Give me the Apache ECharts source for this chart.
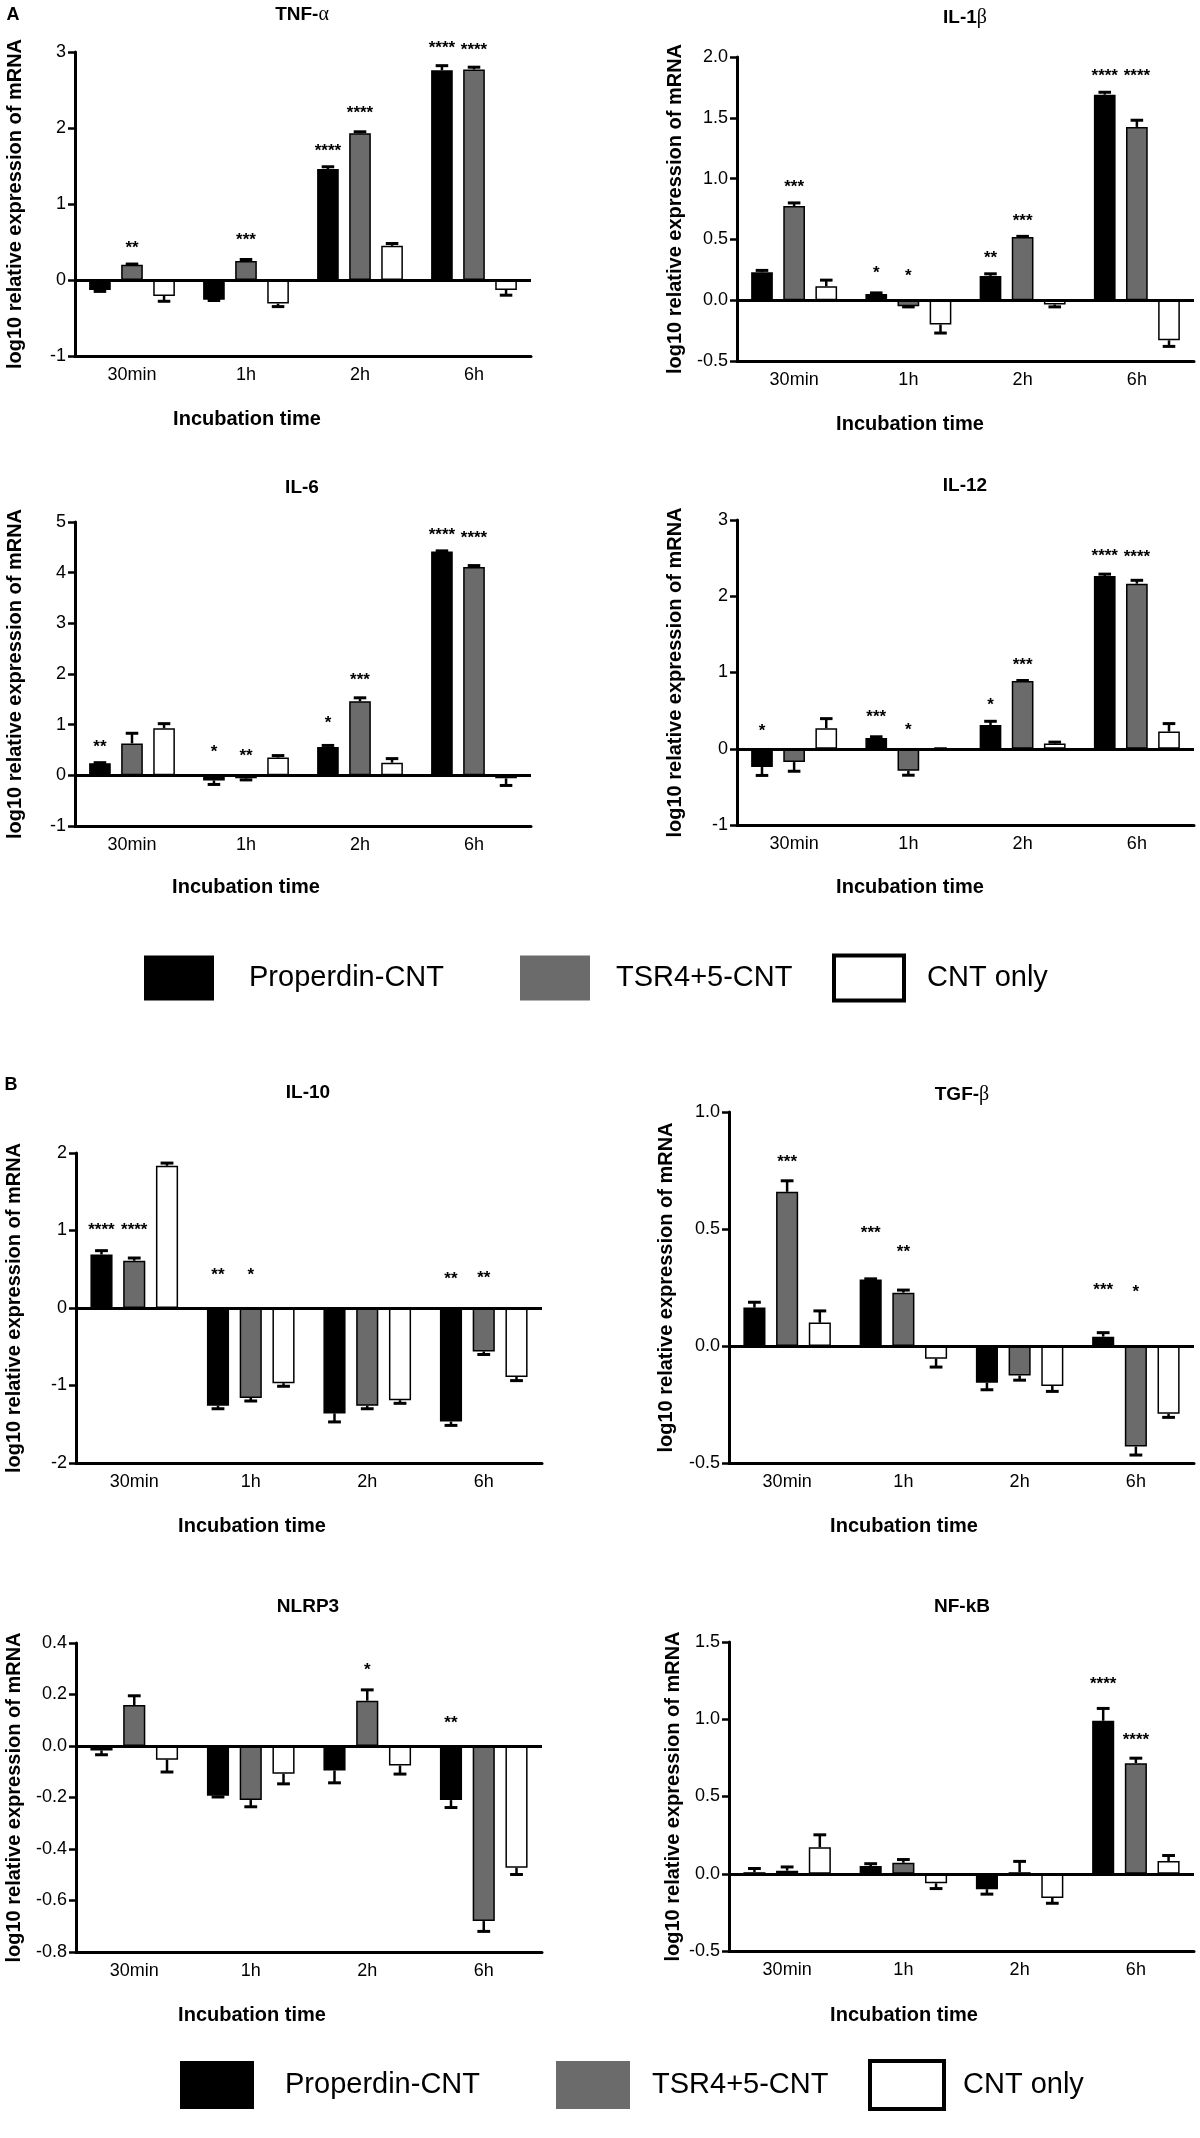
<!DOCTYPE html>
<html>
<head>
<meta charset="utf-8">
<title>log10 relative expression of mRNA</title>
<script src="https://cdn.jsdelivr.net/npm/echarts@6/dist/echarts.min.js"></script>
<style>
html, body { margin: 0; padding: 0; background: #fff; }
#chart { width: 1200px; height: 2138px; }
</style>
</head>
<body>
<div id="chart"></div>
<script>
// categories and groups
const times = ['30min', '1h', '2h', '6h'];
const groups = ['Properdin-CNT', 'TSR4+5-CNT', 'CNT only'];

// means (rows: Properdin-CNT, TSR4+5-CNT, CNT only) and SEM
const tnfMeans = [[-0.13, -0.26, 1.46, 2.76], [0.20, 0.25, 1.93, 2.77], [-0.21, -0.31, 0.45, -0.13]];
const tnfErrs = [[0.02, 0.01, 0.03, 0.06], [0.01, 0.02, 0.02, 0.03], [0.07, 0.04, 0.03, 0.07]];
const tnfSig = [[0, 1, 0.47, '**'], [1, 1, 0.57, '***'], [2, 0, 1.75, '****'], [2, 1, 2.25, '****'], [3, 0, 3.10, '****'], [3, 1, 3.07, '****']];

const il1bMeans = [[0.23, 0.05, 0.20, 1.69], [0.775, -0.05, 0.52, 1.425], [0.115, -0.20, -0.035, -0.33]];
const il1bErrs = [[0.015, 0.01, 0.017, 0.02], [0.025, 0.005, 0.005, 0.055], [0.05, 0.07, 0.02, 0.05]];
const il1bSig = [[0, 1, 0.96, '***'], [1, 0, 0.25, '*'], [1, 1, 0.23, '*'], [2, 0, 0.38, '**'], [2, 1, 0.685, '***'], [3, 0, 1.87, '****'], [3, 1, 1.87, '****']];

const il6Means = [[0.24, -0.10, 0.56, 4.42], [0.63, -0.06, 1.46, 4.11], [0.93, 0.35, 0.25, -0.06]];
const il6Errs = [[0.01, 0.08, 0.03, 0.01], [0.20, 0.03, 0.07, 0.03], [0.09, 0.04, 0.08, 0.14]];
const il6Sig = [[0, 0, 0.625, '**'], [1, 0, 0.53, '*'], [1, 1, 0.46, '**'], [2, 0, 1.10, '*'], [2, 1, 1.95, '***'], [3, 0, 4.82, '****'], [3, 1, 4.75, '****']];

const il12Means = [[-0.24, 0.14, 0.31, 2.265], [-0.175, -0.29, 0.89, 2.165], [0.27, 0, 0.07, 0.225]];
const il12Errs = [[0.11, 0.017, 0.05, 0.025], [0.12, 0.057, 0.005, 0.044], [0.125, 0, 0.017, 0.105]];
const il12Sig = [[0, 0, 0.275, '*'], [1, 0, 0.47, '***'], [1, 1, 0.30, '*'], [2, 0, 0.625, '*'], [2, 1, 1.15, '***'], [3, 0, 2.58, '****'], [3, 1, 2.56, '****']];

const il10Means = [[0.69, -1.26, -1.36, -1.465], [0.61, -1.16, -1.26, -0.56], [1.835, -0.97, -1.19, -0.89]];
const il10Errs = [[0.05, 0.04, 0.11, 0.05], [0.035, 0.04, 0.04, 0.04], [0.035, 0.04, 0.04, 0.047]];
const il10Sig = [[0, 0, 1.05, '****'], [0, 1, 1.05, '****'], [1, 0, 0.47, '**'], [1, 1, 0.47, '*'], [3, 0, 0.42, '**'], [3, 1, 0.44, '**']];

const tgfbMeans = [[0.164, 0.284, -0.157, 0.04], [0.659, 0.228, -0.126, -0.43], [0.10, -0.054, -0.171, -0.289]];
const tgfbErrs = [[0.023, 0.003, 0.03, 0.017], [0.047, 0.011, 0.02, 0.036], [0.05, 0.036, 0.023, 0.016]];
const tgfbSig = [[0, 1, 0.80, '***'], [1, 0, 0.50, '***'], [1, 1, 0.417, '**'], [3, 0, 0.256, '***'], [3, 1, 0.246, '*']];

const nlrp3Means = [[-0.017, -0.193, -0.095, -0.21], [0.159, -0.21, 0.176, -0.68], [-0.053, -0.108, -0.076, -0.473]];
const nlrp3Errs = [[0.017, 0.005, 0.048, 0.029], [0.036, 0.026, 0.042, 0.04], [0.048, 0.039, 0.033, 0.026]];
const nlrp3Sig = [[2, 1, 0.31, '*'], [3, 0, 0.103, '**']];

const nfkbMeans = [[0.01, 0.05, -0.10, 0.99], [0.02, 0.071, 0.01, 0.716], [0.172, -0.062, -0.157, 0.082]];
const nfkbErrs = [[0.024, 0.015, 0.032, 0.08], [0.024, 0.021, 0.07, 0.032], [0.08, 0.034, 0.034, 0.036]];
const nfkbSig = [[3, 0, 1.253, '****'], [3, 1, 0.888, '****']];

// y ranges: [min, max, interval, decimals]
const tnfRange = [-1, 3, 1, 0];
const il1bRange = [-0.5, 2, 0.5, 1];
const il6Range = [-1, 5, 1, 0];
const il12Range = [-1, 3, 1, 0];
const il10Range = [-2, 2, 1, 0];
const tgfbRange = [-0.5, 1, 0.5, 1];
const nlrp3Range = [-0.8, 0.4, 0.2, 1];
const nfkbRange = [-0.5, 1.5, 0.5, 1];

const FONT = '"Liberation Sans", Arial, Helvetica, sans-serif';
const SERIF = '"Liberation Serif", "DejaVu Serif", serif';
const fills = ['#000000', '#6b6b6b', '#ffffff'];
const Y_NAME = 'log10 relative expression of mRNA';
const X_NAME = 'Incubation time';

// layout of each panel
const panels = [
  { t: ['TNF-', 'α'], means: tnfMeans, errs: tnfErrs, sig: tnfSig, r: tnfRange,
    grid: { left: 75, top: 52, width: 456, height: 304 }, titleAt: [302, 15], xNameAt: [247, 419], yNameX: 15 },
  { t: ['IL-1', 'β'], means: il1bMeans, errs: il1bErrs, sig: il1bSig, r: il1bRange,
    grid: { left: 737, top: 57, width: 457, height: 304 }, titleAt: [965, 18], xNameAt: [910, 424], yNameX: 675 },
  { t: ['IL-6', ''], means: il6Means, errs: il6Errs, sig: il6Sig, r: il6Range,
    grid: { left: 75, top: 522, width: 456, height: 304 }, titleAt: [302, 488], xNameAt: [246, 887], yNameX: 15 },
  { t: ['IL-12', ''], means: il12Means, errs: il12Errs, sig: il12Sig, r: il12Range,
    grid: { left: 737, top: 520, width: 457, height: 305 }, titleAt: [965, 486], xNameAt: [910, 887], yNameX: 675 },
  { t: ['IL-10', ''], means: il10Means, errs: il10Errs, sig: il10Sig, r: il10Range,
    grid: { left: 76, top: 1153, width: 466, height: 310 }, titleAt: [308, 1093], xNameAt: [252, 1526], yNameX: 14 },
  { t: ['TGF-', 'β'], means: tgfbMeans, errs: tgfbErrs, sig: tgfbSig, r: tgfbRange,
    grid: { left: 729, top: 1112, width: 465, height: 351 }, titleAt: [962, 1095], xNameAt: [904, 1526], yNameX: 666 },
  { t: ['NLRP3', ''], means: nlrp3Means, errs: nlrp3Errs, sig: nlrp3Sig, r: nlrp3Range,
    grid: { left: 76, top: 1643, width: 466, height: 309 }, titleAt: [308, 1607], xNameAt: [252, 2015], yNameX: 14 },
  { t: ['NF-kB', ''], means: nfkbMeans, errs: nfkbErrs, sig: nfkbSig, r: nfkbRange,
    grid: { left: 729, top: 1642, width: 465, height: 309 }, titleAt: [962, 1607], xNameAt: [904, 2015], yNameX: 673 }
];

const BAR_W = 0.19;      // share of the category band
const BAR_GAP = 0.48;    // gap as share of bar width
const STEP = BAR_W * (1 + BAR_GAP);

function renderErr(params, api) {
  const t = api.value(0), g = api.value(1), v = api.value(2), e = api.value(3);
  const band = api.size([1, 0])[0];
  const x = api.coord([t, v])[0] + (g - 1) * band * STEP;
  const y0 = api.coord([t, v])[1];
  const y1 = api.coord([t, v >= 0 ? v + e : v - e])[1];
  const cap = band * 0.055;
  return {
    type: 'group',
    children: [
      { type: 'line', shape: { x1: x, y1: y0, x2: x, y2: y1 }, style: { stroke: '#000', lineWidth: 2.5 } },
      { type: 'line', shape: { x1: x - cap, y1: y1, x2: x + cap, y2: y1 }, style: { stroke: '#000', lineWidth: 3 } }
    ]
  };
}

function makeSigRenderer(sig) {
  return function (params, api) {
    const t = api.value(0), g = api.value(1), y = api.value(2);
    const band = api.size([1, 0])[0];
    const p = api.coord([t, y]);
    return {
      type: 'text',
      x: p[0] + (g - 1) * band * STEP,
      y: p[1] + 4,
      style: { text: sig[params.dataIndex][3], font: 'bold 17px ' + FONT, fill: '#000', align: 'center', verticalAlign: 'middle' }
    };
  };
}

const grids = [], xAxes = [], yAxes = [], series = [], graphics = [];

panels.forEach((p, i) => {
  const [mn, mx, step, dec] = p.r;
  grids.push(p.grid);
  xAxes.push({
    type: 'category', gridIndex: i, data: times, position: 'bottom',
    axisLine: { onZero: false, lineStyle: { color: '#000', width: 3 } },
    axisTick: { alignWithLabel: true, length: 8, lineStyle: { color: '#000', width: 2.5 } },
    axisLabel: { color: '#000', fontSize: 18, fontFamily: FONT, margin: 10 },
    splitLine: { show: false }
  });
  yAxes.push({
    type: 'value', gridIndex: i, min: mn, max: mx, interval: step,
    axisLine: { show: true, lineStyle: { color: '#000', width: 3 } },
    axisTick: { show: true, length: 7, lineStyle: { color: '#000', width: 2.5 } },
    axisLabel: { color: '#000', fontSize: 18, fontFamily: FONT, margin: 9,
      formatter: v => (Math.abs(v) < 1e-9 ? 0 : v).toFixed(dec) },
    splitLine: { show: false }
  });

  groups.forEach((name, g) => {
    const s = {
      type: 'bar', name: name, xAxisIndex: i, yAxisIndex: i,
      data: p.means[g], barWidth: (BAR_W * 100) + '%', barGap: (BAR_GAP * 100) + '%',
      itemStyle: { color: fills[g], borderColor: '#000', borderWidth: 1.5 },
      emphasis: { disabled: true }
    };
    if (g === 0) {
      s.markLine = {
        silent: true, symbol: ['none', 'none'], label: { show: false },
        lineStyle: { color: '#000', width: 3, type: 'solid' },
        data: [{ yAxis: 0 }]
      };
    }
    series.push(s);
  });

  const errData = [];
  groups.forEach((name, g) => {
    times.forEach((tm, t) => errData.push([t, g, p.means[g][t], p.errs[g][t]]));
  });
  series.push({ type: 'custom', xAxisIndex: i, yAxisIndex: i, data: errData, renderItem: renderErr, z: 3, silent: true });
  series.push({ type: 'custom', xAxisIndex: i, yAxisIndex: i, data: p.sig.map(s => [s[0], s[1], s[2]]),
    renderItem: makeSigRenderer(p.sig), z: 4, silent: true });

  // titles, axis names
  graphics.push({
    type: 'text', x: p.titleAt[0], y: p.titleAt[1],
    style: {
      text: '{b|' + p.t[0] + '}' + (p.t[1] ? '{g|' + p.t[1] + '}' : ''),
      align: 'center', verticalAlign: 'middle',
      rich: { b: { font: 'bold 19px ' + FONT, fill: '#000' }, g: { font: '20px ' + SERIF, fill: '#000' } }
    }
  });
  graphics.push({
    type: 'text', x: p.xNameAt[0], y: p.xNameAt[1],
    style: { text: X_NAME, font: 'bold 20px ' + FONT, fill: '#000', align: 'center', verticalAlign: 'middle' }
  });
  graphics.push({
    type: 'text', x: p.yNameX, y: p.grid.top + p.grid.height / 2, rotation: Math.PI / 2,
    style: { text: Y_NAME, font: 'bold 20px ' + FONT, fill: '#000', align: 'center', verticalAlign: 'middle' }
  });
});

// second set of x axes: the inner half of the crossing ticks
panels.forEach((p, i) => {
  xAxes.push({
    type: 'category', gridIndex: i, data: times, position: 'bottom',
    axisLine: { show: false, onZero: false },
    axisTick: { alignWithLabel: true, inside: true, length: 7, lineStyle: { color: '#000', width: 2.5 } },
    axisLabel: { show: false }, splitLine: { show: false }
  });
});

// panel letters
graphics.push({ type: 'text', x: 13, y: 15, style: { text: 'A', font: 'bold 18px ' + FONT, fill: '#000', align: 'center', verticalAlign: 'middle' } });
graphics.push({ type: 'text', x: 11, y: 1085, style: { text: 'B', font: 'bold 18px ' + FONT, fill: '#000', align: 'center', verticalAlign: 'middle' } });

// legends
function addLegend(x0, cy, boxW, boxH, boxX, textX) {
  groups.forEach((name, g) => {
    graphics.push({
      type: 'rect',
      shape: { x: x0 + boxX[g], y: cy - boxH / 2, width: boxW, height: boxH },
      style: { fill: fills[g], stroke: g === 2 ? '#000' : null, lineWidth: g === 2 ? 4 : 0 }
    });
    graphics.push({
      type: 'text', x: x0 + textX[g], y: cy,
      style: { text: name, font: '29px ' + FONT, fill: '#000', align: 'left', verticalAlign: 'middle' }
    });
  });
}
addLegend(0, 978, 70, 45, [144, 520, 834], [249, 616, 927]);
addLegend(36, 2085, 74, 48, [144, 520, 834], [249, 616, 927]);

const chart = echarts.init(document.getElementById('chart'));
chart.setOption({
  animation: false,
  backgroundColor: '#fff',
  grid: grids,
  xAxis: xAxes,
  yAxis: yAxes,
  series: series,
  graphic: graphics
});
</script>
</body>
</html>
